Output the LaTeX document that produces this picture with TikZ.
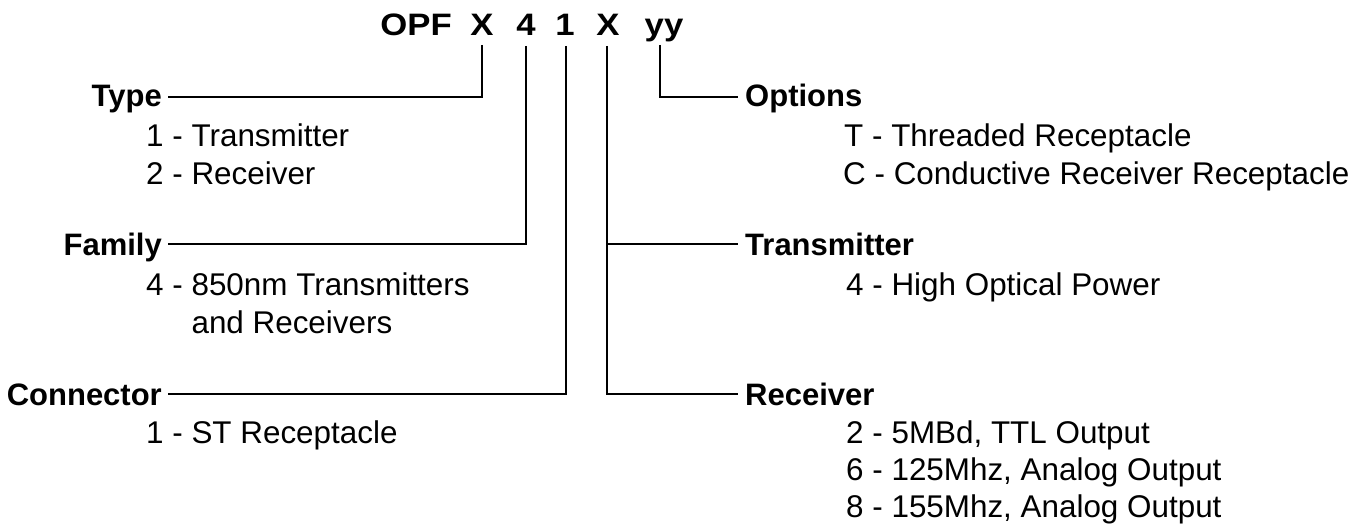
\documentclass[tikz,border=0pt]{standalone}
\usepackage{graphicx}
\usepackage{fontspec}
\setmainfont{Liberation Sans}
\newcommand{\ttlbox}[1]{\scalebox{1.12}[1]{#1}}
\begin{document}
\begin{tikzpicture}[x=1pt,y=-1pt,
  lbl/.style={inner sep=0pt,font=\fontsize{31}{36}\selectfont\bfseries},
  itm/.style={inner sep=0pt,anchor=base west,font=\fontsize{31.4}{36}\selectfont},
  ttl/.style={inner sep=0pt,anchor=base,font=\fontsize{31}{36}\selectfont\bfseries},
  wire/.style={line width=1.6pt,line cap=butt,line join=miter}]
\useasboundingbox (0,0) rectangle (1367,529);
% title
\node[ttl,anchor=base east] (tOPF) at (452,36) {\ttlbox{OPF}};
\node[ttl] (tX) at (482,36) {\ttlbox{X}};
\node[ttl] (t4) at (526,36) {\ttlbox{4}};
\node[ttl] (t1) at (565,36) {\ttlbox{1}};
\node[ttl] (tX2) at (608,36) {\ttlbox{X}};
\node[ttl] (tyy) at (664,36) {\ttlbox{yy}};
% left labels
\node[lbl,anchor=base east] (type) at (162,107) {Type};
\node[itm] (type1) at (146,147) {1 - Transmitter};
\node[itm] (type2) at (146,185) {2 - Receiver};
\node[lbl,anchor=base east] (family) at (162,255) {Family};
\node[itm] (fam1) at (146,295) {4 - 850nm Transmitters};
\node[itm] (fam2) at (146,333) {\phantom{4 - }and Receivers};
\node[lbl,anchor=base east] (conn) at (162,405) {Connector};
\node[itm] (conn1) at (146,443) {1 - ST Receptacle};
% right labels
\node[lbl,anchor=base west] (opt) at (745,107) {Options};
\node[itm] (opt1) at (844,147) {T - Threaded Receptacle};
\node[itm] (opt2) at (843,185) {C - Conductive Receiver Receptacle};
\node[lbl,anchor=base west] (tx) at (745,255) {Transmitter};
\node[itm] (tx1) at (846,295) {4 - High Optical Power};
\node[lbl,anchor=base west] (rx) at (745,405) {Receiver};
\node[itm] (rx1) at (846,443) {2 - 5MBd, TTL Output};
\node[itm] (rx2) at (846,480) {6 - 125Mhz, Analog Output};
\node[itm] (rx3) at (846,517) {8 - 155Mhz, Analog Output};
% line ends
\coordinate (cType) at (168,97);
\coordinate (cFam) at (168,244);
\coordinate (cConn) at (168,394);
\coordinate (cOpt) at (738,97);
\coordinate (cTx) at (738,244);
\coordinate (cRx) at (738,394);
% connectors
\draw[wire] ([yshift=-9pt]tX.base) |- (cType);
\draw[wire] ([yshift=-10pt]t4.base) |- (cFam);
\draw[wire] ([xshift=1pt,yshift=-10pt]t1.base) |- (cConn);
\draw[wire] ([xshift=-4pt,yshift=-9pt]tyy.base) |- (cOpt);
\draw[wire] ([xshift=-1pt,yshift=-10pt]tX2.base) |- (cRx);
\draw[wire] ([xshift=-1pt]tX2.base |- cTx) -- (cTx);
\end{tikzpicture}
\end{document}
